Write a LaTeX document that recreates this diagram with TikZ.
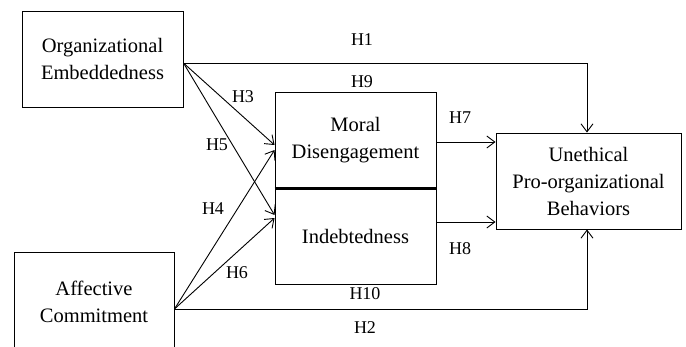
\documentclass[tikz,border=0pt]{standalone}
\usepackage{fontspec}
\newfontfamily\tnr{Liberation Serif}
\usetikzlibrary{arrows.meta,calc}
\begin{document}
\begin{tikzpicture}[x=1pt,y=-1pt,
  box/.style={draw,line width=0.9pt,inner sep=0pt,align=center,font=\tnr\fontsize{20.5}{27}\selectfont},
  lbl/.style={font=\tnr\fontsize{18}{20}\selectfont,inner sep=0pt},
  conn/.style={line width=0.9pt},
  arr/.style={conn,-{Straight Barb[length=8pt,width=12pt,line width=0.9pt]}}]
\clip (0,0) rectangle (686,346);
\fill[white] (0,0) rectangle (686,346);
\node[box,minimum width=161pt,minimum height=96pt] (OE) at (102.5,59) {Organizational\\Embeddedness};
\node[box,minimum width=160pt,minimum height=100pt] (AC) at (94,302) {Affective\\Commitment};
\node[box,minimum width=161pt,minimum height=96pt] (MD) at (355.5,140) {Moral\\Disengagement};
\node[box,minimum width=161pt,minimum height=96pt] (IN) at (355.5,236) {Indebtedness};
\node[box,minimum width=185pt,minimum height=96pt] (UP) at (588.5,181) {Unethical\\Pro-organizational\\Behaviors};
\draw[line width=2.2pt] (MD.south west) -- (MD.south east);
% direct paths
\draw[arr] ([yshift=-4pt]OE.east) -| ([xshift=-1.5pt]UP.north);
\draw[arr] ([yshift=-7pt]AC.east) -| ([xshift=-1.5pt]UP.south);
% to mediators
\draw[arr] ([yshift=-4pt]OE.east) -- ([yshift=-5pt]MD.west);
\draw[arr] ([yshift=-4pt]OE.east) -- ([yshift=21pt]IN.west);
\draw[arr] ([yshift=-7pt]AC.east) -- ([yshift=-10pt]MD.west);
\draw[arr] ([yshift=-7pt]AC.east) -- ([yshift=18pt]IN.west);
% mediators to outcome
\draw[arr] ([yshift=-2pt]MD.east) -- ([yshift=-2pt]MD.east -| UP.west);
\draw[arr] ([yshift=14pt]IN.east) -- ([yshift=14pt]IN.east -| UP.west);
% labels
\node[lbl] (h1) at (362,40) {H1};
\node[lbl] (h9) at (362,82) {H9};
\node[lbl] (h7) at (460,118) {H7};
\node[lbl] (h8) at (460,249) {H8};
\node[lbl] (h10) at (365,294) {H10};
\node[lbl] (h2) at (365,328) {H2};
\node[lbl] (h3) at (243,97) {H3};
\node[lbl] (h5) at (217,145) {H5};
\node[lbl] (h4) at (213,209) {H4};
\node[lbl] (h6) at (237,273) {H6};
\end{tikzpicture}
\end{document}
